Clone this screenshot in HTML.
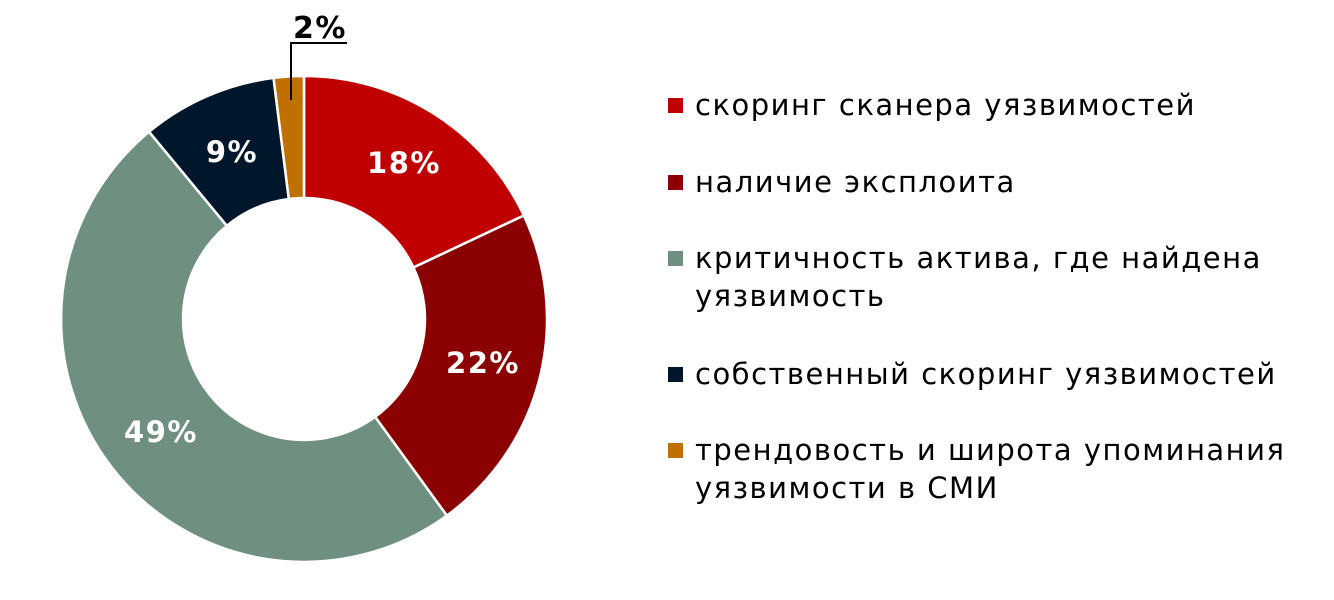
<!DOCTYPE html>
<html><head><meta charset="utf-8"><style>
body{margin:0;background:#fff;width:1334px;height:600px;overflow:hidden;font-family:"DejaVu Sans","Liberation Sans",sans-serif}
.lg{position:absolute;left:695px;font-size:29px;letter-spacing:1.5px;color:#000;line-height:38px}
.mk{position:absolute;left:668px;width:15px;height:15px}
</style></head><body>
<svg id="s" width="1334" height="600" style="position:absolute;left:0;top:0">
<g id="g"></g>
<g font-family="DejaVu Sans, Liberation Sans, sans-serif" font-weight="bold" font-size="29" letter-spacing="1.5" text-anchor="middle" fill="#fff">
<text x="404" y="173">18%</text>
<text x="483" y="373">22%</text>
<text x="161" y="442">49%</text>
<text x="232" y="162">9%</text>
<text x="320" y="38" fill="#000" font-size="30">2%</text>
</g>
<polyline points="291,100 291,43 347,43" fill="none" stroke="#000" stroke-width="2"/>
</svg>
<div class="mk" style="top:98px;background:#c00000"></div>
<div class="lg" style="top:86px">скоринг сканера уязвимостей</div>
<div class="mk" style="top:175px;background:#8b0000"></div>
<div class="lg" style="top:163px">наличие эксплоита</div>
<div class="mk" style="top:251px;background:#6f8f80"></div>
<div class="lg" style="top:239px">критичность актива, где найдена<br>уязвимость</div>
<div class="mk" style="top:367px;background:#00172b"></div>
<div class="lg" style="top:355px">собственный скоринг уязвимостей</div>
<div class="mk" style="top:443px;background:#c07000"></div>
<div class="lg" style="top:431px">трендовость и широта упоминания<br>уязвимости в СМИ</div>
<script>
var cx=304,cy=319,R=243,r=121;
var d=[[18,'#c00000'],[22,'#8b0000'],[49,'#6f8f80'],[9,'#00172b'],[2,'#c07000']];
var a=0,h='';
function p(rad,t){t=t*Math.PI/180;return (cx+rad*Math.sin(t)).toFixed(2)+','+(cy-rad*Math.cos(t)).toFixed(2);}
d.forEach(function(s){var b=a+s[0]*3.6,l=(b-a)>180?1:0;
h+='<path d="M'+p(R,a)+' A'+R+','+R+' 0 '+l+' 1 '+p(R,b)+' L'+p(r,b)+' A'+r+','+r+' 0 '+l+' 0 '+p(r,a)+' Z" fill="'+s[1]+'" stroke="#fff" stroke-width="2.5"/>';a=b;});
document.getElementById('g').innerHTML=h;
</script>
</body></html>
